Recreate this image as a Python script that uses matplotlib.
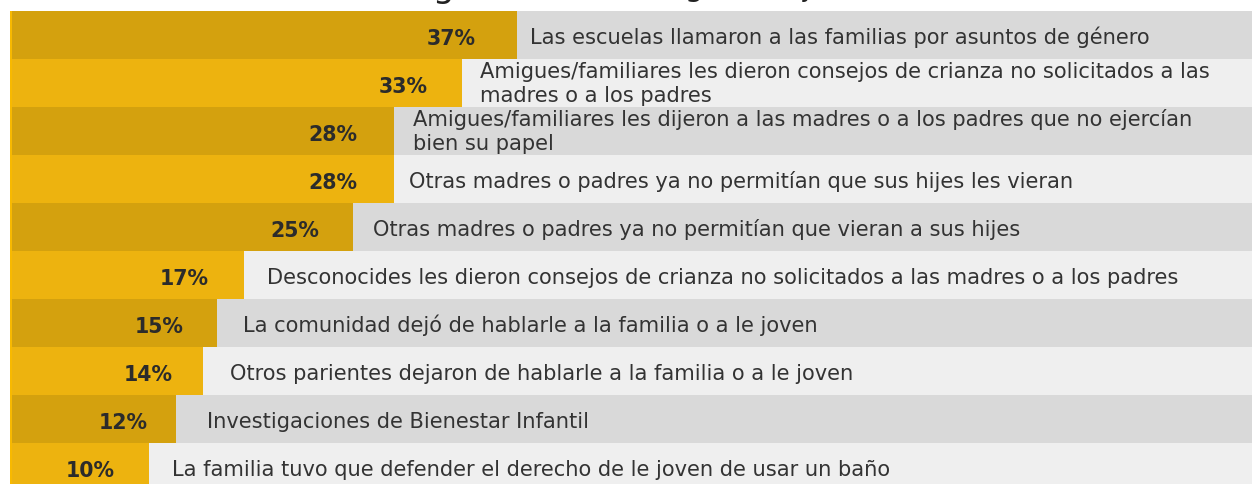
import matplotlib
matplotlib.use("Agg")
import matplotlib.pyplot as plt
from matplotlib.transforms import offset_copy

# Survey answers, top to bottom
labels = [
    "Las escuelas llamaron a las familias por asuntos de género",
    "Amigues/familiares les dieron consejos de crianza no solicitados a las\nmadres o a los padres",
    "Amigues/familiares les dijeron a las madres o a los padres que no ejercían\nbien su papel",
    "Otras madres o padres ya no permitían que sus hijes les vieran",
    "Otras madres o padres ya no permitían que vieran a sus hijes",
    "Desconocides les dieron consejos de crianza no solicitados a las madres o a los padres",
    "La comunidad dejó de hablarle a la familia o a le joven",
    "Otros parientes dejaron de hablarle a la familia o a le joven",
    "Investigaciones de Bienestar Infantil",
    "La familia tuvo que defender el derecho de le joven de usar un baño",
]
values = [37, 33, 28, 28, 25, 17, 15, 14, 12, 10]

title = "Estigma social"
subtitle = "(según les jóvenes)"

# label gaps in pixels from the end of each bar
pct_gap = [41, 35, 37, 37, 34, 35, 33, 30, 28, 34]
txt_gap = [13, 18, 19, 15, 20, 23, 26, 27, 31, 23]

gold = ["#D4A10E", "#EDB30F"]
grey = ["#D9D9D9", "#EFEFEF"]
stripe = "#F8B900"
ink = "#333333"

W, H, DPI = 1252, 484, 100
px_per_pct = 13.65
x0 = 12
row_h = 48
row0 = 35

fig = plt.figure(figsize=(W / DPI, H / DPI), dpi=DPI)
ax = fig.add_axes([0, 0, 1, 1])
ax.set_xlim(-x0 / px_per_pct, (W - x0) / px_per_pct)
ax.set_ylim((H - row0) / row_h, -row0 / row_h)
ax.axis("off")

rows = list(range(len(values)))
ax.barh(rows, [100 - v for v in values], left=values, height=1.0,
        color=[grey[i % 2] for i in rows], linewidth=0)
ax.barh(rows, values, height=1.0, color=[gold[i % 2] for i in rows], linewidth=0)
ax.fill_between([-2.5 / px_per_pct, 0], -0.5, len(values) - 0.5, color=stripe, linewidth=0)


def shifted(dx, dy):
    return offset_copy(ax.transData, fig=fig, x=dx, y=-dy, units="dots")


for i, (v, lab) in enumerate(zip(values, labels)):
    ax.text(v, i, f"{v}%", transform=shifted(-pct_gap[i], 10),
            ha="right", va="baseline", fontsize=14.8, fontweight="bold",
            color="#2B2B2B", family="DejaVu Sans")
    lines = lab.split("\n")
    if len(lines) == 1:
        offs = [9.5]
    else:
        offs = [-4.5, 19]
    for line, dy in zip(lines, offs):
        ax.text(v, i, line, transform=shifted(txt_gap[i], dy),
                ha="left", va="baseline", fontsize=15.15, color=ink,
                family="DejaVu Sans")

# heading sits mostly above the visible area, only descenders show
fig.text(630 / W, 1 + 2.5 / H, title + " ", ha="right", va="baseline",
         fontsize=24.8, color="#222222", family="DejaVu Sans")
fig.text(639 / W, 1 + 3.5 / H, subtitle, ha="left", va="baseline",
         fontsize=21.5, color="#222222", family="DejaVu Sans")

fig.savefig("out.png", dpi=DPI)
